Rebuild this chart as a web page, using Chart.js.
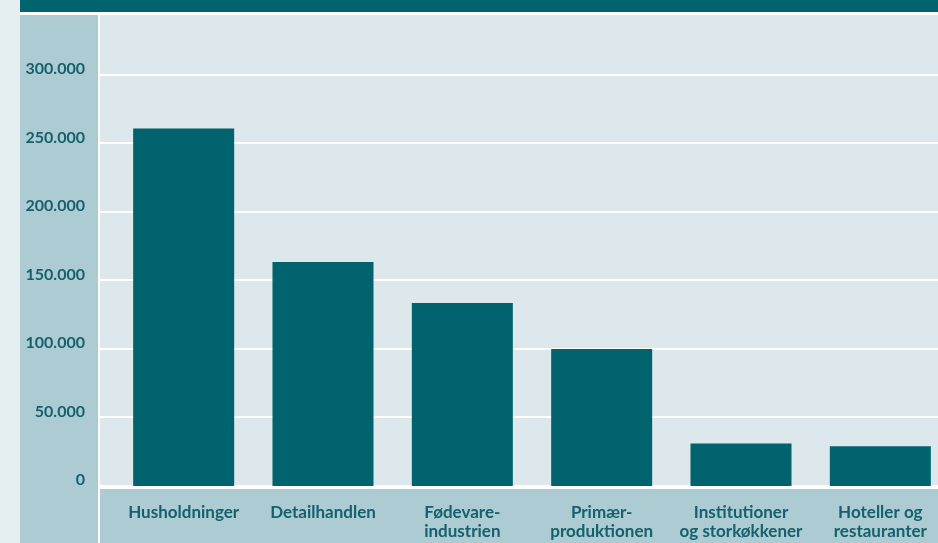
<!DOCTYPE html>
<html>
<head>
<meta charset="utf-8">
<script src="https://cdn.jsdelivr.net/npm/chart.js@4"></script>
<style>
  html, body { margin: 0; padding: 0; overflow: hidden; background: #ffffff; }
  #wrap { width: 938px; height: 543px; overflow: hidden; }
</style>
</head>
<body>
<div id="wrap"><canvas id="myChart" width="950" height="543"></canvas></div>
<script>
// data (tons)
const categories = [
  "Husholdninger",
  "Detailhandlen",
  ["Fødevare-", "industrien"],
  ["Primær-", "produktionen"],
  ["Institutioner", "og storkøkkener"],
  ["Hoteller og", "restauranter"]
];
const tons = [261000, 163500, 133500, 100000, 31000, 29000];
const yTicks = [0, 50000, 100000, 150000, 200000, 250000, 300000];
const titleText = "Fordeling af madspild i Danmark på sektorer, 2012, i tons opgjort";

const teal = "#00636d";
const labelColor = "#14606c";

function fmt(v) {
  return String(v).replace(/\B(?=(\d{3})+(?!\d))/g, ".");
}

// panels, header and white grid lines behind the bars
const backdrop = {
  id: "backdrop",
  beforeDraw(chart) {
    const { ctx, width, height } = chart;
    const area = chart.chartArea;
    ctx.save();
    ctx.fillStyle = "#ffffff";
    ctx.fillRect(0, 0, width, height);
    ctx.fillStyle = "#e5eef0";
    ctx.fillRect(0, 0, 20, height);
    ctx.fillStyle = teal;
    ctx.fillRect(20, 0, width - 20, 12);
    ctx.fillStyle = "#adcbd2";
    ctx.fillRect(20, 15, 78, height - 15);
    ctx.fillRect(100, area.bottom + 3, width - 100, height - area.bottom - 3);
    ctx.fillStyle = "#dce8ec";
    ctx.fillRect(100, 15, width - 100, area.bottom - 15);
    // header text, mostly cut off at the top edge
    ctx.fillStyle = "#ffffff";
    ctx.font = "bold 17px Lato";
    ctx.textBaseline = "alphabetic";
    ctx.fillText(titleText, 38, -3);
    // grid lines
    const y = chart.scales.y;
    ctx.fillStyle = "#ffffff";
    y.ticks.forEach(t => {
      const py = Math.round(y.getPixelForValue(t.value));
      ctx.fillRect(100, py - 1, width - 100, 2);
    });
    ctx.fillRect(100, area.bottom, width - 100, 3);
    ctx.restore();
  }
};

const ctx = document.getElementById("myChart").getContext("2d");
window.myChart = new Chart(ctx, {
  type: "bar",
  data: {
    labels: categories,
    datasets: [{
      data: tons,
      backgroundColor: teal,
      borderWidth: 0,
      barPercentage: 0.725,
      categoryPercentage: 1
    }]
  },
  options: {
    responsive: false,
    animation: false,
    devicePixelRatio: 1,
    layout: { padding: { top: 14, left: 0, right: 0, bottom: 0 } },
    plugins: {
      legend: { display: false },
      tooltip: { enabled: false }
    },
    scales: {
      x: {
        grid: { display: false, drawTicks: false },
        border: { display: false },
        ticks: {
          color: labelColor,
          font: { family: "Lato", weight: "bold", size: 17, lineHeight: 1.1 },
          padding: 17,
          maxRotation: 0,
          autoSkip: false
        },
        afterFit(scale) {
          scale.height = 57;
          scale.paddingLeft = 0;
          scale.paddingRight = 0;
        }
      },
      y: {
        min: 0,
        max: 344500,
        grid: { display: false, drawTicks: false },
        border: { display: false },
        ticks: {
          color: labelColor,
          font: { family: "Lato", weight: "bold", size: 16 },
          padding: 29,
          labelOffset: -6,
          callback: v => fmt(v)
        },
        afterBuildTicks(scale) {
          scale.ticks = yTicks.map(v => ({ value: v }));
        },
        afterFit(scale) {
          scale.width = 114;
          scale.paddingTop = 0;
          scale.paddingBottom = 0;
        }
      }
    }
  },
  plugins: [backdrop]
});
</script>
</body>
</html>
